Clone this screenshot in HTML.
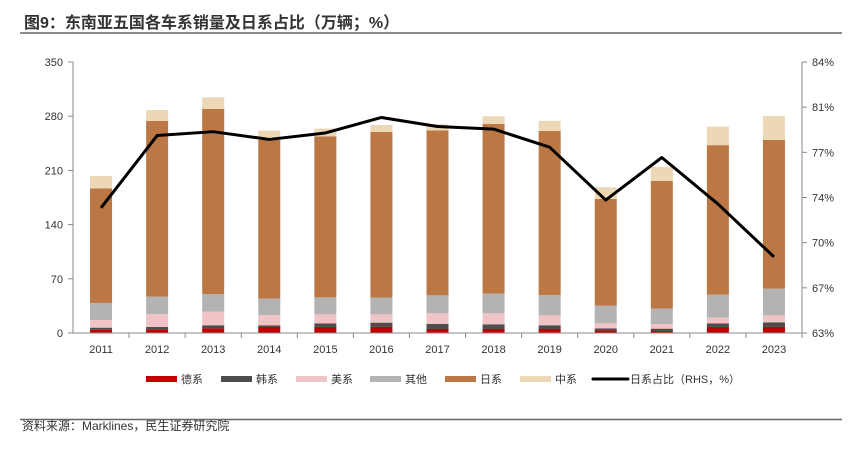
<!DOCTYPE html>
<html><head><meta charset="utf-8"><style>
body{margin:0;background:#fff;font-family:"Liberation Sans","Noto Sans CJK SC",sans-serif}
</style></head><body>
<svg width="854" height="448" xmlns="http://www.w3.org/2000/svg" style="font-family:'Liberation Sans','Noto Sans CJK SC',sans-serif">
<text x="24" y="28" font-size="16" font-weight="bold" fill="#333">图9：东南亚五国各车系销量及日系占比（万辆；%）</text>
<line x1="20" y1="33" x2="842" y2="33" stroke="#666" stroke-width="1.5"/>
<g id="plot"></g>
<line x1="20" y1="419.5" x2="842" y2="419.5" stroke="#666" stroke-width="1.5"/>
<text x="22" y="430" font-size="12" fill="#333">资料来源：Marklines，民生证券研究院</text>
</svg>
<script>
const years=["2011","2012","2013","2014","2015","2016","2017","2018","2019","2020","2021","2022","2023"];
const de=[4.3,4.7,6,7.8,7.8,7.8,5.2,5.2,5.2,3.4,2.6,7.8,7.8];
const kr=[2.6,3.1,4,2.2,4.7,5.6,6.4,6,4.8,2.6,3,4.7,6];
const us=[9.9,16.8,17.6,13,11.5,10.6,13.8,14.2,12.8,6.5,6,7.3,9];
const other=[22,22.4,22.8,21.4,22,21.7,23.3,25.5,26.2,22.8,19.9,29.8,34.5];
const jp=[148,227,239,205,208,214,213,219,212,138,165,193,192];
const cn=[16,14,15,12,10,9,8,10,13,15,18,24,31];
const share=[72.7,78.3,78.6,78.0,78.5,79.7,79.0,78.8,77.4,73.3,76.6,73.0,68.9];
const leftTicks=["0","70","140","210","280","350"];
const rightTicks=["63%","67%","70%","74%","77%","81%","84%"];
const series=[["德系",de,"#c00000"],["韩系",kr,"#4d4d4d"],["美系",us,"#f0c4c6"],["其他",other,"#b3b3b3"],["日系",jp,"#bb7845"],["中系",cn,"#ecd8b6"]];
const NS="http://www.w3.org/2000/svg";
const g=document.getElementById('plot');
const X0=73,X1=802,Y0=333,Y1=62;
const step=(X1-X0)/years.length;
const xc=i=>X0+step*(i+0.5);
const yL=v=>Y0-(v/350)*(Y0-Y1);
const yR=v=>Y0-((v-63)/21)*(Y0-Y1);
function mk(t,a){const e=document.createElementNS(NS,t);for(const k in a)e.setAttribute(k,a[k]);g.appendChild(e);return e;}
// axes
let e=mk('line',{x1:X0,y1:Y1,x2:X0,y2:Y0,stroke:'#888'});


e=mk('line',{x1:X1,y1:Y1,x2:X1,y2:Y0,stroke:'#888'});


leftTicks.forEach((t,i)=>{const y=Y0-i*(Y0-Y1)/5;
 mk('line',{x1:X0-5,y1:y,x2:X0,y2:y,stroke:'#888'});
 const tx=mk('text',{x:X0-10,y:y+4,'font-size':11,fill:'#333','text-anchor':'end'});tx.textContent=t;
 
 });
rightTicks.forEach((t,i)=>{const y=Y0-i*(Y0-Y1)/6;
 mk('line',{x1:X1,y1:y,x2:X1+5,y2:y,stroke:'#888'});
 const tx=mk('text',{x:X1+10,y:y+4,'font-size':11,fill:'#333'});tx.textContent=t;
 
 });
// bars
years.forEach((yr,i)=>{let cum=0;
 series.forEach(s=>{const v=s[1][i];const r=mk('rect',{x:xc(i)-11,y:yL(cum+v),width:22,height:yL(cum)-yL(cum+v),fill:s[2]});
  
  cum+=v;});
 const tx=mk('text',{x:xc(i),y:353,'font-size':11,fill:'#333','text-anchor':'middle'});tx.textContent=yr;
 
 
 mk('line',{x1:X0+step*(i+1),y1:Y0,x2:X0+step*(i+1),y2:Y0+5,stroke:'#888'});
});
e=mk('line',{x1:X0,y1:Y0,x2:X1,y2:Y0,stroke:'#888'});


// line
const pl=mk('polyline',{points:share.map((v,i)=>xc(i)+','+yR(v)).join(' '),fill:'none',stroke:'#000','stroke-width':3,'stroke-linejoin':'round'});


// legend
const lx=[146,221,296,370,445,520];
series.forEach((s,i)=>{const r=mk('rect',{x:lx[i],y:376,width:31,height:6,fill:s[2]});
 
 
 const tx=mk('text',{x:lx[i]+35,y:383,'font-size':11,fill:'#333'});tx.textContent=s[0];
 
 });
e=mk('line',{x1:593,y1:379,x2:628,y2:379,stroke:'#000','stroke-width':3,'stroke-linecap':'round'});


e=mk('text',{x:630,y:383,'font-size':11,fill:'#333'});e.textContent='日系占比（RHS，%）';


</script>
</body></html>
